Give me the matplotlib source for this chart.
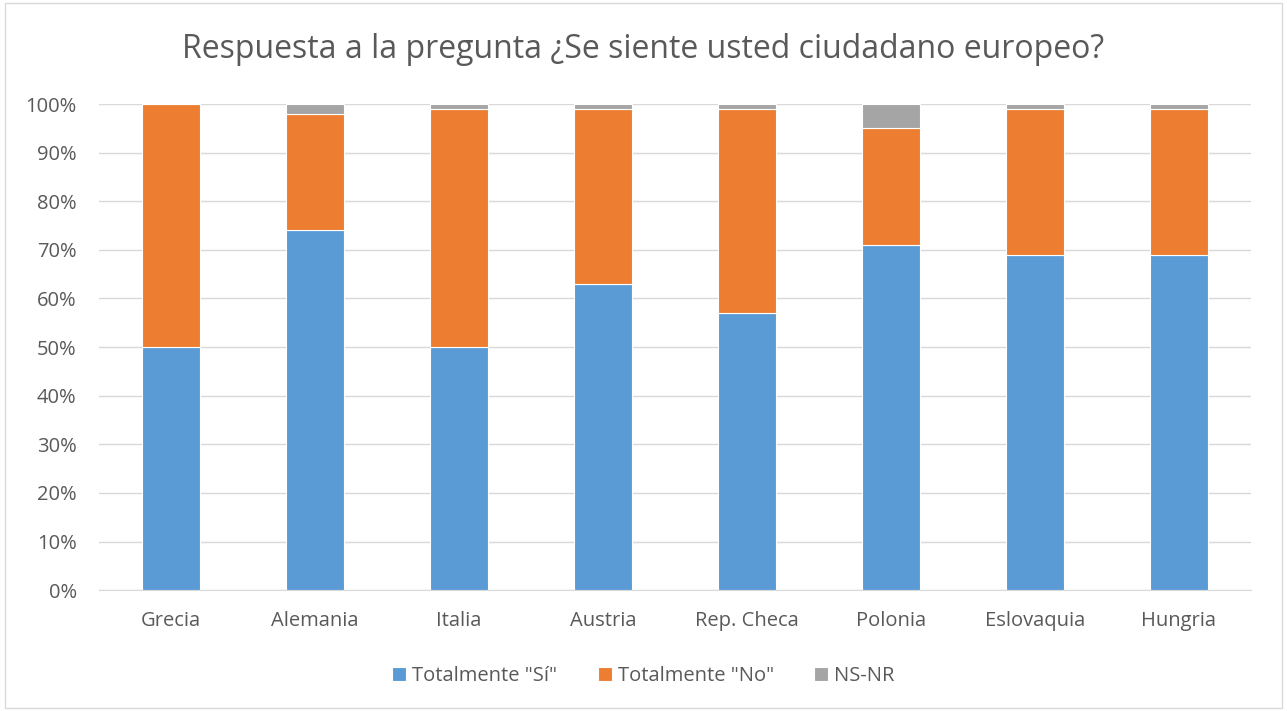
import numpy as np
import matplotlib.pyplot as plt
from matplotlib.ticker import PercentFormatter
from matplotlib.patches import Rectangle

paises = ["Grecia", "Alemania", "Italia", "Austria", "Rep. Checa", "Polonia", "Eslovaquia", "Hungria"]
si = [50, 74, 50, 63, 57, 71, 69, 69]
no = [50, 24, 49, 36, 42, 24, 30, 30]
nsnr = [0, 2, 1, 1, 1, 5, 1, 1]

plt.rcParams['font.family'] = ['Open Sans', 'DejaVu Sans']
gris_txt = "#595959"

fig = plt.figure(figsize=(12.87, 7.11), dpi=100)
ax = fig.add_axes([0.0769, 0.170, 0.895, 0.6837])

x = np.arange(len(paises))
w = 0.4
b1 = np.array(si)
b2 = b1 + np.array(no)
ax.bar(x, si, w, color="#5B9BD5", edgecolor="white", linewidth=0.8, label='Totalmente "Sí"', zorder=3)
ax.bar(x, no, w, bottom=b1, color="#ED7D31", edgecolor="white", linewidth=0.8, label='Totalmente "No"', zorder=3)
ax.bar(x, nsnr, w, bottom=b2, color="#A5A5A5", edgecolor="white", linewidth=0.8, label="NS-NR", zorder=3)

ax.set_xlim(-0.5, len(paises) - 0.5)
ax.set_ylim(0, 100)
ax.set_yticks(np.arange(0, 101, 10))
ax.yaxis.set_major_formatter(PercentFormatter(decimals=0))
ax.grid(axis="y", color="#D9D9D9", linewidth=1, zorder=0)
ax.set_xticks(x)
ax.set_xticklabels(paises)
for s in ["top", "right", "left"]:
    ax.spines[s].set_visible(False)
ax.spines["bottom"].set_color("#D9D9D9")
ax.tick_params(axis="both", length=0, labelsize=14.5, colors=gris_txt)
ax.tick_params(axis="x", pad=15)
ax.tick_params(axis="y", pad=16)

fig.text(0.5, 0.93, "Respuesta a la pregunta ¿Se siente usted ciudadano europeo?",
         ha="center", va="center", fontsize=23, color=gris_txt)

fig.legend(loc="center", bbox_to_anchor=(0.5, 1 - 676 / 711), ncol=3, frameon=False,
           fontsize=14.5, labelcolor=gris_txt, handlelength=0.7, handleheight=0.7,
           handletextpad=0.3, columnspacing=2.0)

fig.patches.append(Rectangle((0.004, 0.004), 0.992, 0.992, transform=fig.transFigure,
                             fill=False, edgecolor="#D9D9D9", linewidth=1))

fig.savefig("out.png", dpi=100)
